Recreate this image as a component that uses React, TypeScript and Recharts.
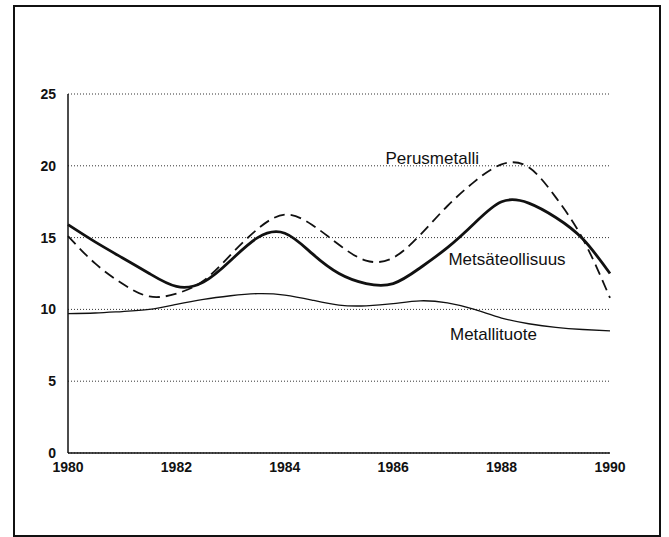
import { CartesianGrid, Line, LineChart, ReferenceDot, XAxis, YAxis } from 'recharts';

const years = [
  1980, 1980.5, 1981, 1981.5, 1982, 1982.5, 1983, 1983.5, 1984, 1984.5, 1985,
  1985.5, 1986, 1986.5, 1987, 1987.5, 1988, 1988.5, 1989, 1989.5, 1990,
];

const metsateollisuus = [
  15.9, 14.7, 13.6, 12.5, 11.6, 11.9, 13.4, 15.0, 15.3, 13.9, 12.5,
  11.8, 11.8, 12.9, 14.3, 16.0, 17.5, 17.4, 16.4, 14.9, 12.5,
];

const perusmetalli = [
  15.1, 13.2, 11.8, 10.9, 11.1, 12.0, 13.8, 15.6, 16.6, 15.9, 14.5,
  13.4, 13.6, 15.2, 17.2, 18.9, 20.1, 19.9, 17.8, 14.9, 10.8,
];

const metallituote = [
  9.7, 9.75, 9.85, 10.0, 10.35, 10.7, 10.95, 11.1, 11.0, 10.65, 10.3,
  10.25, 10.4, 10.6, 10.45, 10.0, 9.4, 9.0, 8.75, 8.6, 8.5,
];

const xTicks = [1980, 1982, 1984, 1986, 1988, 1990];
const yTicks = [0, 5, 10, 15, 20, 25];

const data = years.map((year, i) => ({
  year,
  metsa: metsateollisuus[i],
  perus: perusmetalli[i],
  metalli: metallituote[i],
}));

const font = '"Liberation Sans", Arial, Helvetica, sans-serif';
const tickStyle = { fontSize: 14, fontWeight: 700, fill: '#111', fontFamily: font };
const labelStyle = { fontSize: 17, fill: '#111', fontFamily: font };

export default function App() {
  return (
    <div style={{ position: 'absolute', left: 0, top: 0, width: 669, height: 537, background: '#fff' }}>
      <div
        style={{
          position: 'absolute',
          left: 13,
          top: 5,
          width: 644,
          height: 528,
          border: '2px solid #111',
        }}
      />
      <div style={{ position: 'absolute', left: 0, top: 0 }}>
        <LineChart width={669} height={537} data={data} margin={{ top: 94, right: 59, bottom: 54, left: 24 }}>
          <CartesianGrid vertical={false} stroke="#333" strokeDasharray="1 2" />
          <XAxis
            dataKey="year"
            type="number"
            domain={[1980, 1990]}
            ticks={xTicks}
            tickLine={false}
            axisLine={{ stroke: '#111', strokeWidth: 1.5 }}
            tick={tickStyle}
            tickMargin={3}
            height={30}
            interval={0}
          />
          <YAxis
            type="number"
            domain={[0, 25]}
            ticks={yTicks}
            tickLine={false}
            axisLine={{ stroke: '#111', strokeWidth: 1.5 }}
            tick={tickStyle}
            tickMargin={6}
            width={44}
            interval={0}
          />
          <Line
            dataKey="perus"
            type="natural"
            stroke="#111"
            strokeWidth={1.8}
            strokeDasharray="11 6"
            dot={false}
            isAnimationActive={false}
          />
          <Line
            dataKey="metsa"
            type="natural"
            stroke="#111"
            strokeWidth={2.8}
            dot={false}
            isAnimationActive={false}
          />
          <Line
            dataKey="metalli"
            type="natural"
            stroke="#111"
            strokeWidth={1.3}
            dot={false}
            isAnimationActive={false}
          />
          <ReferenceDot x={1986.72} y={20.55} r={0} label={{ value: 'Perusmetalli', position: 'center', ...labelStyle }} />
          <ReferenceDot x={1988.1} y={13.5} r={0} label={{ value: 'Metsäteollisuus', position: 'center', ...labelStyle }} />
          <ReferenceDot x={1987.85} y={8.3} r={0} label={{ value: 'Metallituote', position: 'center', ...labelStyle }} />
        </LineChart>
      </div>
    </div>
  );
}
